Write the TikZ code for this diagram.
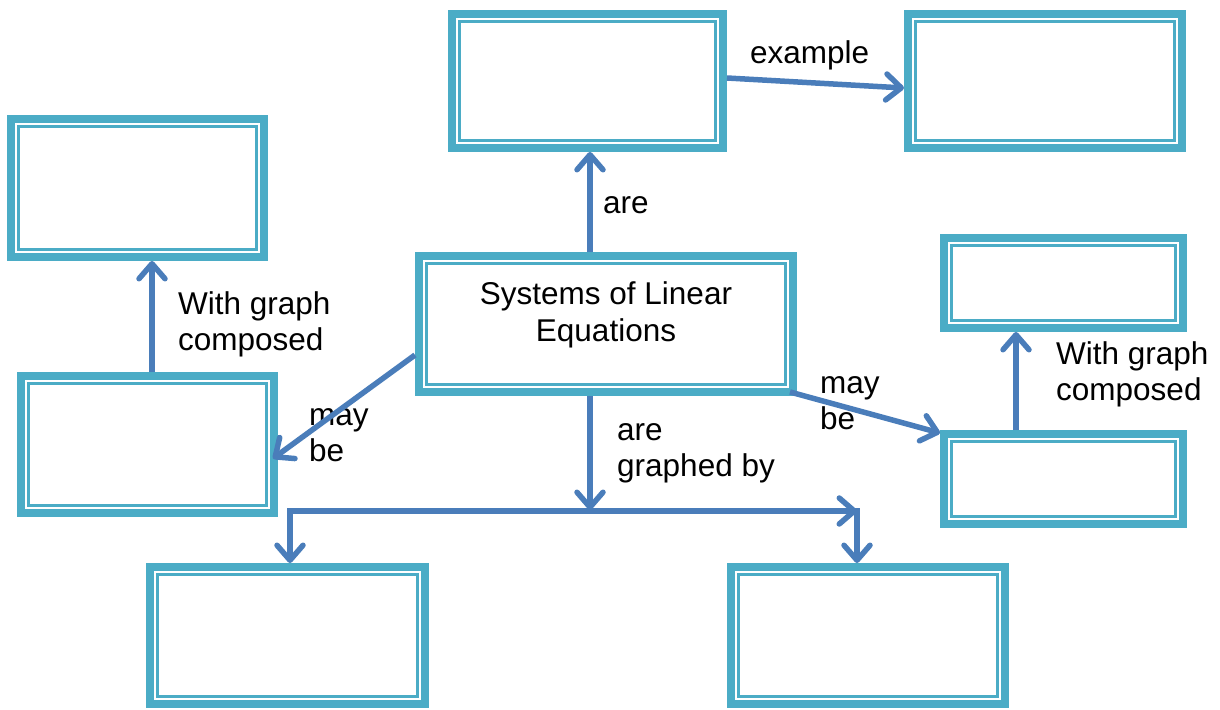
\documentclass[tikz,border=0pt]{standalone}
\usepackage{fontspec}
\setmainfont{Liberation Sans}
\usetikzlibrary{arrows.meta}
\definecolor{boxc}{HTML}{4BACC6}
\definecolor{arrc}{HTML}{4A7DBA}
\begin{document}
\begin{tikzpicture}[x=1pt,y=-1pt,
  cbox/.style={rectangle, draw=boxc, line width=8pt, fill=white, outer sep=4pt, inner sep=0pt},
  innerln/.style={draw=boxc, line width=2.2pt},
  arr/.style={draw=arrc, line width=5.5pt, -{Straight Barb[length=15pt,width=26pt,round]}},
  lbl/.style={font=\fontsize{31.5}{36}\selectfont, align=left, inner sep=0pt, anchor=north west},
  ttl/.style={font=\fontsize{31.5}{37}\selectfont, align=center, inner sep=0pt, anchor=north}]
\useasboundingbox (0,0) rectangle (1220,709);
% boxes
\node[cbox, minimum width=271pt, minimum height=134pt] (tc) at (587.5,81) {};
\node[cbox, minimum width=274pt, minimum height=134pt] (tr) at (1045,81) {};
\node[cbox, minimum width=253pt, minimum height=138pt] (lt) at (137.5,188) {};
\node[cbox, minimum width=374pt, minimum height=136pt] (c) at (606,324) {};
\node[cbox, minimum width=239pt, minimum height=90pt] (rs) at (1063.5,283) {};
\node[cbox, minimum width=253pt, minimum height=137pt] (lm) at (147.5,444.5) {};
\node[cbox, minimum width=239pt, minimum height=90pt] (rl) at (1063.5,479) {};
\node[cbox, minimum width=275pt, minimum height=137pt] (bl) at (287.5,635.5) {};
\node[cbox, minimum width=274pt, minimum height=137pt] (br) at (868,635.5) {};
\foreach \n in {tc,tr,lt,c,rs,lm,rl,bl,br}
  \draw[innerln] ([xshift=11.5pt,yshift=-11.5pt]\n.north west) rectangle ([xshift=-11.5pt,yshift=11.5pt]\n.south east);
% title
\node[ttl] (title) at (606,278) {\strut Systems of Linear\\\strut Equations};
% labels
\node[lbl] (lare) at (603,188) {\strut are};
\node[lbl] (lex) at (750,38) {\strut example};
\node[lbl] (lwgl) at (178,289) {\strut With graph\\\strut composed};
\node[lbl] (lmbl) at (309,400) {\strut may\\\strut be};
\node[lbl] (lmbr) at (820,368) {\strut may\\\strut be};
\node[lbl] (lwgr) at (1056,339) {\strut With graph\\\strut composed};
\node[lbl] (lgr) at (617,415) {\strut are\\\strut graphed by};
% connectors
\draw[arr] ([xshift=2.5pt]c.north -| tc.south) -- ([xshift=2.5pt]tc.south);
\draw[arr] ([yshift=3pt]tc.east) -- ([yshift=-7pt]tr.west);
\draw[arr] ([xshift=4.5pt]lm.north) -- ([xshift=4.5pt]lm.north |- lt.south);
\draw[arr] ([yshift=-31pt]c.west) -- ([xshift=-5pt,yshift=-14pt]lm.east);
\draw[arr] ([xshift=-7pt,yshift=4pt]c.south east) -- ([yshift=-3pt]rl.north west);
\draw[arr] ([xshift=-47.5pt]rl.north) -- ([xshift=-47.5pt]rl.north |- rs.south);
\coordinate (j) at (590,510);
\coordinate (bL) at (290,511);
\coordinate (bR) at (857,511);
\draw[arr] (c.south -| j) -- (j);
\draw[arr] ([xshift=-2.75pt]bL) -- (bR);
\draw[arr] ([yshift=2.75pt]bL) -- (bL |- bl.north);
\draw[arr] ([yshift=2.75pt]bR) -- (bR |- br.north);
\end{tikzpicture}
\end{document}
